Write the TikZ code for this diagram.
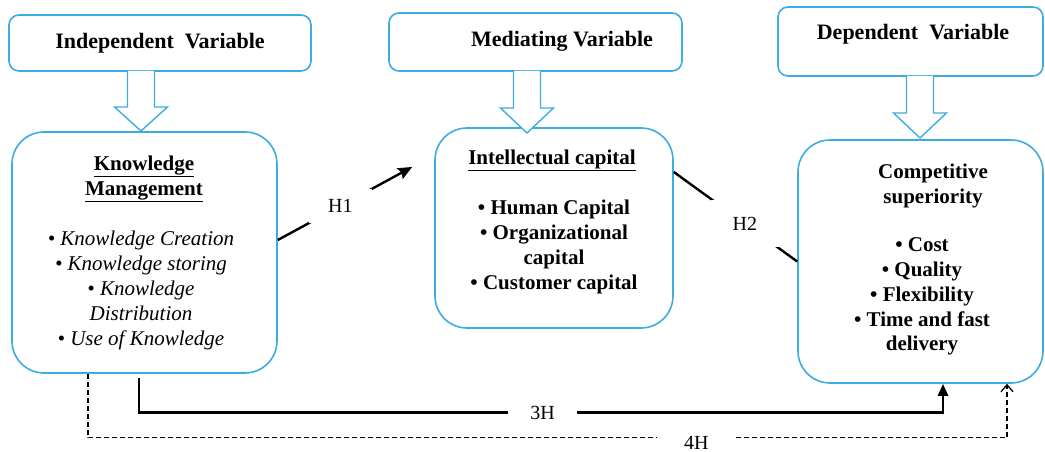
\documentclass[tikz,border=0pt]{standalone}
\usepackage{fontspec}
\setmainfont{Liberation Serif}
\usetikzlibrary{arrows.meta,calc}

\definecolor{frameblue}{RGB}{62,172,224}

% centred lines whose baseline is that of the first line
\newcommand\stacklines[1]{\begin{tabular}[t]{@{}c@{}}#1\end{tabular}}

% hollow downward block arrow: centre x, top y, head base y, tip y
\newcommand\blockdown[4]{%
  \draw[blockarrow] (#1-13.5,#2) -- (#1-13.5,#3) -- (#1-26.5,#3) -- (#1,#4)
    -- (#1+26.5,#3) -- (#1+13.5,#3) -- (#1+13.5,#2);}

\begin{document}
\begin{tikzpicture}[x=1pt,y=-1pt,
  varbox/.style={draw=frameblue, line width=1.6pt, rounded corners=10pt, fill=white, inner sep=0pt},
  mainbox/.style={draw=frameblue, line width=1.6pt, rounded corners=32pt, fill=white, inner sep=0pt},
  blockarrow/.style={draw=frameblue, line width=1.4pt, fill=white, line join=miter},
  titletext/.style={font=\fontsize{22}{26}\selectfont\bfseries, anchor=base, inner sep=0pt},
  bodytext/.style={font=\fontsize{21}{25}\selectfont\bfseries, anchor=base, inner sep=0pt},
  itemtext/.style={font=\fontsize{21}{25}\selectfont\itshape, anchor=base, inner sep=0pt},
  hlabel/.style={font=\fontsize{20}{24}\selectfont, fill=white},
  link/.style={line width=2.4pt, black},
]
\useasboundingbox (0,0) rectangle (1045,452);

% variable headers
\node[varbox, minimum width=302pt, minimum height=56pt] (iv) at (160,43) {};
\node[varbox, minimum width=293pt, minimum height=58pt] (mv) at (535.5,42) {};
\node[varbox, minimum width=265pt, minimum height=69pt] (dv) at (910.5,41.5) {};

% construct boxes
\node[mainbox, minimum width=265pt, minimum height=241pt] (km) at (144.5,252.5) {};
\node[mainbox, minimum width=238pt, minimum height=200pt] (ic) at (554,228) {};
\node[mainbox, minimum width=245pt, minimum height=243pt] (cs) at (920.5,261.5) {};

% hollow arrows from headers to boxes
\blockdown{141}{71}{107}{131}
\blockdown{527}{71}{108}{133}
\blockdown{920}{76}{113}{138}

% header texts
\node[titletext] (ivt) at (160,49) {Independent\hspace{0.5em}Variable};
\node[titletext] (mvt) at (562,47) {Mediating Variable};
\node[titletext] (dvt) at (913,40) {Dependent\hspace{0.5em}Variable};

% knowledge management
\node[bodytext] (kmh) at (144,170) {\stacklines{\underline{Knowledge}\\\underline{Management}}};
\node[itemtext] (kmi) at (141,245) {\stacklines{• Knowledge Creation\\• Knowledge storing\\• Knowledge\\Distribution\\• Use of Knowledge}};

% intellectual capital
\node[bodytext] (ich) at (552,164) {\underline{Intellectual capital}};
\node[bodytext] (ici) at (554,214) {\stacklines{• Human Capital\\• Organizational\\capital\\• Customer capital}};

% competitive superiority
\node[bodytext] (csh) at (933,178) {\stacklines{Competitive\\superiority}};
\node[bodytext] (csi) at (922,251) {\stacklines{• Cost\\• Quality\\• Flexibility\\• Time and fast\\delivery}};

% hypotheses
\draw[link, -{Stealth[length=14pt,width=12pt,inset=2pt]}, shorten >=25pt]
  ([yshift=12.5pt]km.east) -- node[hlabel, pos=0.4, inner xsep=19pt, inner ysep=10.5pt] (h1) {H1}
  ([yshift=73pt]ic.west);
\draw[link]
  ([yshift=56pt]ic.east) -- node[hlabel, pos=0.576, inner xsep=22pt, inner ysep=17pt] (h2) {H2}
  (cs.west);
\draw[line width=2.8pt, -{Triangle[length=12pt,width=10pt]}]
  ([xshift=-5.5pt,yshift=-4pt]km.south) -- ++(0,35)
  -| node[hlabel, pos=0.251, inner xsep=22pt, inner ysep=3pt] (h3) {3H}
  ([xshift=22.5pt]cs.south);
\draw[line width=1.3pt, dash pattern=on 5pt off 3pt, -{Straight Barb[length=7pt,width=12pt]}]
  ([xshift=-56.5pt]km.south) -- ++(0,64)
  -| node[hlabel, pos=0.331, yshift=-5pt, inner xsep=27pt, inner ysep=3pt] (h4) {4H}
  ([xshift=86.5pt]cs.south);
\end{tikzpicture}
\end{document}
